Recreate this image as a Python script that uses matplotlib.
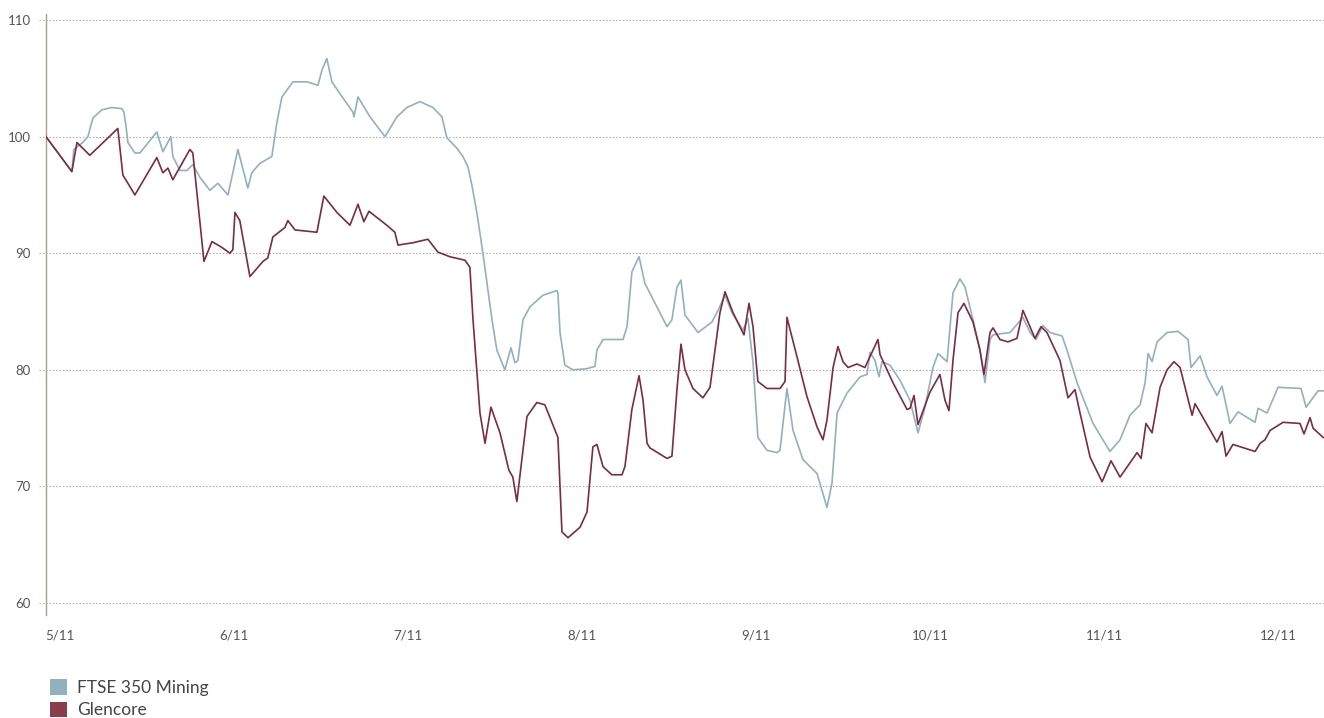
import matplotlib.pyplot as plt
from matplotlib.patches import Patch

plt.rcParams['font.family'] = ['Lato', 'DejaVu Sans']

# x en mois (5 = "5/11"), valeurs indexées à 100
ftse_x = [4.920, 5.069, 5.080, 5.132, 5.161, 5.190, 5.241, 5.299, 5.356, 5.368, 5.379,
          5.391, 5.431, 5.460, 5.557, 5.592, 5.638, 5.649, 5.690, 5.730, 5.764, 5.805,
          5.862, 5.908, 5.966, 6.023, 6.080, 6.103, 6.149, 6.218, 6.247, 6.276, 6.339,
          6.420, 6.483, 6.506, 6.534, 6.563, 6.609, 6.684, 6.690, 6.713, 6.782, 6.868,
          6.937, 6.994, 7.069, 7.144, 7.195, 7.224, 7.282, 7.316, 7.345, 7.368, 7.397,
          7.431, 7.483, 7.511, 7.557, 7.592, 7.615, 7.632, 7.661, 7.701, 7.776, 7.856,
          7.862, 7.874, 7.902, 7.948, 8.029, 8.075, 8.086, 8.121, 8.161, 8.236, 8.259,
          8.287, 8.328, 8.362, 8.431, 8.489, 8.517, 8.546, 8.569, 8.592, 8.667, 8.747,
          8.782, 8.822, 8.862, 8.925, 8.954, 8.983, 9.011, 9.063, 9.121, 9.138, 9.178,
          9.213, 9.270, 9.351, 9.408, 9.437, 9.466, 9.523, 9.598, 9.638, 9.655, 9.684,
          9.707, 9.724, 9.770, 9.828, 9.885, 9.931, 9.971, 10.017, 10.046, 10.098,
          10.115, 10.132, 10.172, 10.201, 10.247, 10.287, 10.316, 10.345, 10.362,
          10.460, 10.534, 10.575, 10.609, 10.649, 10.690, 10.759, 10.787, 10.845,
          10.937, 11.034, 11.092, 11.149, 11.207, 11.236, 11.253, 11.276, 11.305,
          11.362, 11.425, 11.483, 11.500, 11.552, 11.592, 11.649, 11.678, 11.724,
          11.770, 11.868, 11.885, 11.937, 12.000, 12.132, 12.161, 12.230, 12.264]
ftse_y = [100.0, 97.0, 98.9, 99.5, 100.0, 101.6, 102.3, 102.5, 102.4, 102.1, 101.0,
          99.5, 98.6, 98.6, 100.4, 98.7, 100.0, 98.3, 97.1, 97.1, 97.6, 96.5,
          95.4, 96.0, 95.0, 98.9, 95.6, 96.9, 97.7, 98.3, 101.2, 103.4, 104.7,
          104.7, 104.4, 105.7, 106.7, 104.7, 103.7, 102.1, 101.7, 103.4, 101.7, 100.0,
          101.7, 102.5, 103.0, 102.5, 101.7, 99.9, 99.0, 98.3, 97.4, 95.8, 93.4,
          90.0, 84.3, 81.7, 80.0, 81.9, 80.6, 80.8, 84.3, 85.4, 86.4, 86.8,
          86.6, 83.2, 80.4, 80.0, 80.1, 80.3, 81.7, 82.6, 82.6, 82.6, 83.7,
          88.4, 89.7, 87.4, 85.4, 83.7, 84.3, 87.1, 87.7, 84.7, 83.2, 84.1,
          85.1, 86.4, 84.9, 83.4, 84.4, 80.6, 74.2, 73.1, 72.9, 73.1, 78.4,
          74.8, 72.3, 71.1, 68.2, 70.3, 76.3, 78.0, 79.4, 79.6, 81.5, 80.8,
          79.4, 80.7, 80.4, 79.1, 77.4, 74.6, 76.8, 80.2, 81.4, 80.7,
          83.7, 86.6, 87.8, 87.1, 84.3, 81.7, 78.9, 82.6, 83.0,
          83.2, 84.5, 83.2, 82.6, 83.8, 83.2, 82.9, 81.7, 78.9,
          75.4, 73.0, 74.0, 76.1, 77.0, 78.9, 81.4, 80.7, 82.4,
          83.2, 83.3, 82.6, 80.2, 81.2, 79.4, 77.8, 78.6, 75.4,
          76.4, 75.5, 76.7, 76.3, 78.5, 78.4, 76.8, 78.2, 78.2]

glen_x = [4.920, 5.069, 5.098, 5.172, 5.333, 5.362, 5.391, 5.431, 5.557, 5.592, 5.621,
          5.649, 5.747, 5.764, 5.828, 5.874, 5.931, 5.977, 5.994, 6.006, 6.034, 6.092,
          6.167, 6.195, 6.224, 6.293, 6.310, 6.351, 6.477, 6.517, 6.592, 6.667, 6.713,
          6.747, 6.776, 6.879, 6.925, 6.943, 7.029, 7.115, 7.172, 7.241, 7.328, 7.356,
          7.374, 7.414, 7.443, 7.477, 7.529, 7.580, 7.603, 7.626, 7.684, 7.741, 7.787,
          7.862, 7.885, 7.920, 7.989, 8.029, 8.063, 8.086, 8.121, 8.172, 8.230, 8.247,
          8.287, 8.328, 8.351, 8.374, 8.391, 8.489, 8.517, 8.546, 8.569, 8.592, 8.638,
          8.695, 8.736, 8.793, 8.822, 8.868, 8.931, 8.960, 8.983, 9.011, 9.063, 9.138,
          9.167, 9.178, 9.236, 9.293, 9.351, 9.385, 9.408, 9.443, 9.471, 9.500, 9.529,
          9.580, 9.626, 9.701, 9.713, 9.787, 9.868, 9.885, 9.908, 9.931, 10.000, 10.057,
          10.086, 10.109, 10.132, 10.161, 10.195, 10.247, 10.287, 10.310, 10.345, 10.362,
          10.402, 10.448, 10.500, 10.534, 10.603, 10.638, 10.672, 10.747, 10.793, 10.833,
          10.862, 10.920, 10.989, 11.040, 11.092, 11.190, 11.213, 11.241, 11.276, 11.322,
          11.362, 11.402, 11.437, 11.506, 11.523, 11.649, 11.678, 11.701, 11.741, 11.868,
          11.897, 11.925, 11.954, 12.029, 12.126, 12.149, 12.184, 12.201, 12.259]
glen_y = [100.0, 97.0, 99.5, 98.4, 100.7, 96.7, 96.0, 95.0, 98.2, 96.9, 97.3,
          96.3, 98.9, 98.6, 89.3, 91.0, 90.5, 90.0, 90.3, 93.5, 92.8, 88.0,
          89.3, 89.6, 91.4, 92.2, 92.8, 92.0, 91.8, 94.9, 93.5, 92.4, 94.2,
          92.7, 93.6, 92.4, 91.8, 90.7, 90.9, 91.2, 90.1, 89.7, 89.4, 88.8,
          84.3, 76.3, 73.7, 76.8, 74.6, 71.4, 70.8, 68.7, 76.0, 77.2, 77.0,
          74.2, 66.1, 65.6, 66.5, 67.8, 73.4, 73.6, 71.7, 71.0, 71.0, 71.7,
          76.6, 79.5, 77.4, 73.7, 73.3, 72.4, 72.6, 78.3, 82.2, 80.0, 78.4,
          77.6, 78.5, 84.9, 86.7, 84.9, 83.0, 85.7, 83.7, 79.0, 78.4, 78.4,
          79.0, 84.5, 81.1, 77.7, 75.1, 74.0, 75.7, 80.2, 82.0, 80.7, 80.2,
          80.5, 80.2, 82.6, 81.3, 78.9, 76.6, 76.7, 77.8, 75.3, 78.1, 79.6,
          77.4, 76.5, 80.8, 84.9, 85.7, 84.1, 81.7, 79.6, 83.2, 83.6,
          82.6, 82.4, 82.7, 85.1, 82.7, 83.7, 83.2, 80.8, 77.6, 78.3,
          76.3, 72.5, 70.4, 72.2, 70.8, 72.9, 72.4, 75.4, 74.6, 78.5,
          80.0, 80.7, 80.2, 76.1, 77.1, 73.8, 74.7, 72.6, 73.6, 73.0,
          73.7, 74.0, 74.8, 75.5, 75.4, 74.5, 75.9, 75.0, 74.2]

mois = [5, 6, 7, 8, 9, 10, 11, 12]
etiquettes = ["5/11", "6/11", "7/11", "8/11", "9/11", "10/11", "11/11", "12/11"]
graduations = [60, 70, 80, 90, 100, 110]

bleu = "#93b1bd"
rouge = "#7b2c3e"
grille = "#b3a89b"
texte = "#555555"

fig = plt.figure(figsize=(13.24, 7.18), dpi=100)
ax = fig.add_axes([0.0347, 0.1439, 0.9653, 0.8363])

for g in graduations:
    ax.axhline(g, xmin=-0.0055, xmax=1, color=grille, lw=0.8, ls=(0, (1.3, 1.7)),
               clip_on=False, zorder=1)

ax.plot(ftse_x, ftse_y, color=bleu, lw=1.2, zorder=3, solid_joinstyle='round')
ax.plot(glen_x, glen_y, color=rouge, lw=1.2, zorder=4, solid_joinstyle='round')

ax.set_xlim(4.92, 12.264)
ax.set_ylim(59, 110.5)
ax.set_yticks(graduations)
ax.set_xticks(mois)
ax.set_xticklabels(etiquettes)
ax.tick_params(axis='both', length=0, labelsize=9.5, labelcolor=texte)
ax.tick_params(axis='y', pad=11)
ax.tick_params(axis='x', pad=11)

for s in ['top', 'right', 'bottom']:
    ax.spines[s].set_visible(False)
ax.spines['left'].set_color("#a89f8c")
ax.spines['left'].set_linewidth(1.0)

poignees = [Patch(facecolor=bleu, edgecolor='none', label="FTSE 350 Mining"),
            Patch(facecolor="#8a3d4c", edgecolor='none', label="Glencore")]
fig.legend(handles=poignees, loc='upper left', bbox_to_anchor=(0.0376, 0.054),
           frameon=False, fontsize=12.5, handlelength=1.0, handleheight=1.0,
           handletextpad=0.55, labelspacing=0.33, labelcolor="#444444",
           borderaxespad=0, borderpad=0)

fig.savefig("out.png", dpi=100)
